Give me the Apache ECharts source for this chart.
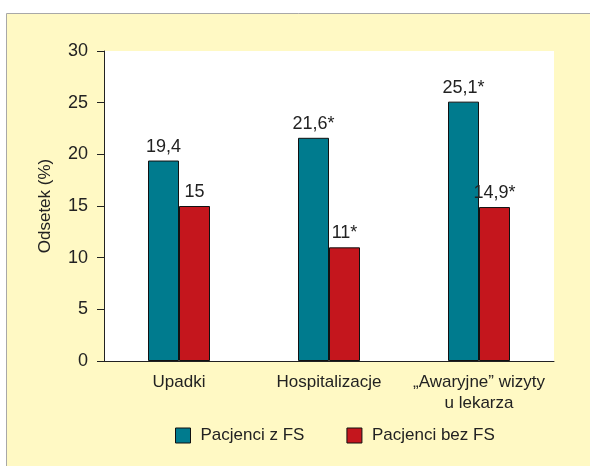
<!DOCTYPE html>
<html><head><meta charset="utf-8">
<script src="https://cdn.jsdelivr.net/npm/echarts@6/dist/echarts.min.js"></script>
<style>html,body{margin:0;padding:0;background:#fff;}#c{width:590px;height:466px;}</style>
</head><body><div id="c"></div>
<script>
const categories = ['Upadki', 'Hospitalizacje', '„Awaryjne” wizyty\nu lekarza'];
const seriesNames = ['Pacjenci z FS', 'Pacjenci bez FS'];
const withFS = [19.4, 21.6, 25.1];
const withoutFS = [15, 11, 14.9];
const withFSLabels = ['19,4', '21,6*', '25,1*'];
const withoutFSLabels = ['15', '11*', '14,9*'];
const yTicks = [0, 5, 10, 15, 20, 25, 30];

const FONT = '"Liberation Sans", Arial, sans-serif';
const chart = echarts.init(document.getElementById('c'));
chart.setOption({
  animation: false,
  textStyle: { fontFamily: FONT },
  graphic: [{
    type: 'rect', z: -10, silent: true,
    shape: { x: 6.5, y: 13.5, width: 700, height: 600 },
    style: { fill: '#FFF9C4', stroke: '#A8A8A8', lineWidth: 1 }
  }],
  grid: { left: 104, right: 36, top: 51, bottom: 105, show: true, backgroundColor: '#ffffff', borderWidth: 0 },
  legend: {
    left: 170, top: 422, itemWidth: 15, itemHeight: 15, itemGap: 42,
    icon: 'rect',
    itemStyle: { borderColor: '#111', borderWidth: 1 },
    textStyle: { fontFamily: FONT, fontSize: 17, color: '#222', padding: [0, 0, 0, 5] },
    data: seriesNames
  },
  xAxis: {
    type: 'category', data: categories,
    axisLine: { lineStyle: { color: '#222', width: 1 } },
    axisTick: { show: false },
    axisLabel: { fontFamily: FONT, fontSize: 17, color: '#222', margin: 11, lineHeight: 21, interval: 0 }
  },
  yAxis: {
    type: 'value', min: 0, max: 30, interval: 5,
    name: 'Odsetek (%)', nameLocation: 'middle', nameGap: 50, nameRotate: 90,
    nameTextStyle: { fontFamily: FONT, fontSize: 17, color: '#222' },
    axisLine: { show: true, lineStyle: { color: '#222', width: 1 } },
    axisTick: { show: true, length: 7, lineStyle: { color: '#222' } },
    splitLine: { show: false },
    axisLabel: { fontFamily: FONT, fontSize: 18, color: '#222', margin: 16,
      formatter: v => yTicks.includes(v) ? String(v) : '' }
  },
  series: [
    { name: seriesNames[0], type: 'bar', data: withFS, barWidth: 31, barGap: '0%',
      itemStyle: { color: '#007B8E', borderColor: '#111', borderWidth: 1 },
      label: { show: true, position: 'top', distance: 5, fontFamily: FONT, fontSize: 18, color: '#222',
        formatter: p => withFSLabels[p.dataIndex] } },
    { name: seriesNames[1], type: 'bar', data: withoutFS, barWidth: 31,
      itemStyle: { color: '#C4161D', borderColor: '#111', borderWidth: 1 },
      label: { show: true, position: 'top', distance: 5, fontFamily: FONT, fontSize: 18, color: '#222',
        formatter: p => withoutFSLabels[p.dataIndex] } }
  ]
});
</script></body></html>
